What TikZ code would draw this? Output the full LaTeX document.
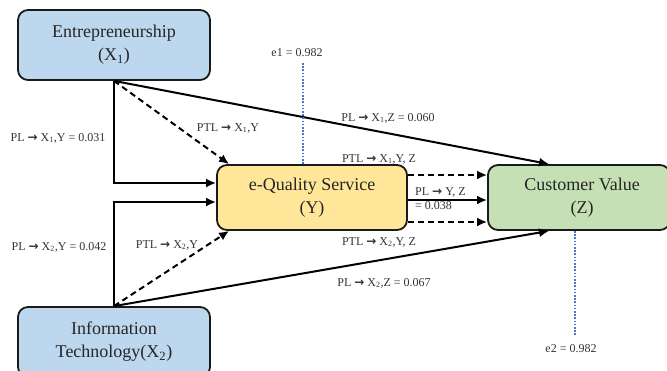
\documentclass[tikz,border=0pt]{standalone}
\usepackage{fontspec}
\setmainfont{Liberation Serif}
\newfontfamily\arrowfont{DejaVu Sans}
\usetikzlibrary{arrows.meta,calc}

\definecolor{boxblue}{HTML}{BDD7EE}
\definecolor{boxyellow}{HTML}{FFE699}
\definecolor{boxgreen}{HTML}{C5E0B4}
\definecolor{edgeink}{HTML}{1A1A1A}
\definecolor{labelink}{HTML}{333333}
\definecolor{errblue}{HTML}{4472C4}

\newcommand{\ra}{{\arrowfont\bfseries →}}

\tikzset{
  construct/.style={draw=edgeink, line width=1.8pt, rounded corners=10pt,
    align=center, font=\fontsize{18}{23}\selectfont, text=black!85,
    inner sep=0pt},
  path/.style={draw=black, line width=2pt, -{Latex[length=10pt,width=9pt]}},
  indirect/.style={path, dash pattern=on 6pt off 4pt},
  lbl/.style={font=\fontsize{12}{14}\selectfont, text=labelink, inner sep=1pt},
  errline/.style={draw=errblue, line width=1.8pt, dash pattern=on 1.6pt off 1.6pt}
}

\begin{document}
\begin{tikzpicture}[x=1pt,y=-1pt]
\useasboundingbox (0,0) rectangle (667,370);
\clip (0,0) rectangle (667,370);

% constructs
\node[construct, fill=boxblue, minimum width=192pt, minimum height=70pt]
  (X1) at (114,45) {Entrepreneurship\\(X\textsubscript{1})};
\node[construct, fill=boxblue, minimum width=192pt, minimum height=70pt]
  (X2) at (114,342) {Information\\Technology(X\textsubscript{2})};
\node[construct, fill=boxyellow, minimum width=190pt, minimum height=65pt]
  (Y) at (312,197.5) {e-Quality Service\\(Y)};
\node[construct, fill=boxgreen, minimum width=182pt, minimum height=65pt]
  (Z) at (579,197.5) {\hspace*{6pt}Customer Value\\\hspace*{6pt}(Z)};

% direct and indirect paths from X1
\draw[path] (X1.south) |- ($(Y.west)+(0,-14.5)$);
\draw[indirect] (X1.south) -- ($(Y.north west)+(13,0)$);
\draw[path] (X1.south) -- ($(Z.north west)+(62,0)$);

% direct and indirect paths from X2
\draw[path] (X2.north) |- ($(Y.west)+(0,4.5)$);
\draw[indirect] (X2.north) -- ($(Y.south west)+(13,0)$);
\draw[path] (X2.north) -- ($(Z.south west)+(62,0)$);

% paths from Y to Z
\draw[indirect] ($(Y.east)+(0,-22.5)$) -- ($(Z.west)+(0,-22.5)$);
\draw[path] ($(Y.east)+(0,2.5)$) -- ($(Z.west)+(0,2.5)$);
\draw[indirect] ($(Y.east)+(0,24.5)$) -- ($(Z.west)+(0,24.5)$);

% error terms
\node[lbl] (e1) at (297,53) {e1 = 0.982};
\coordinate (e1top) at (303,63);
\draw[errline] (e1top) -- (e1top |- Y.north);
\node[lbl] (e2) at (571,349) {e2 = 0.982};
\coordinate (e2bot) at (575,335);
\draw[errline] (e2bot |- Z.south) -- (e2bot);

% coefficient labels
\node[lbl] (l1) at (58,138) {PL \ra{} X\textsubscript{1},Y = 0.031};
\node[lbl] (l2) at (228,128) {PTL \ra{} X\textsubscript{1},Y};
\node[lbl] (l3) at (388,118) {PL \ra{} X\textsubscript{1},Z = 0.060};
\node[lbl] (l4) at (379,159) {PTL \ra{} X\textsubscript{1},Y, Z};
\node[lbl, anchor=west, align=left, font=\fontsize{12}{14}\selectfont]
  (l5) at (414,199) {PL \ra{} Y, Z\\= 0.038};
\node[lbl] (l6) at (379,242) {PTL \ra{} X\textsubscript{2},Y, Z};
\node[lbl] (l7) at (384,283) {PL \ra{} X\textsubscript{2},Z = 0.067};
\node[lbl] (l8) at (59,247) {PL \ra{} X\textsubscript{2},Y = 0.042};
\node[lbl] (l9) at (167,245) {PTL \ra{} X\textsubscript{2},Y};
\end{tikzpicture}
\end{document}
